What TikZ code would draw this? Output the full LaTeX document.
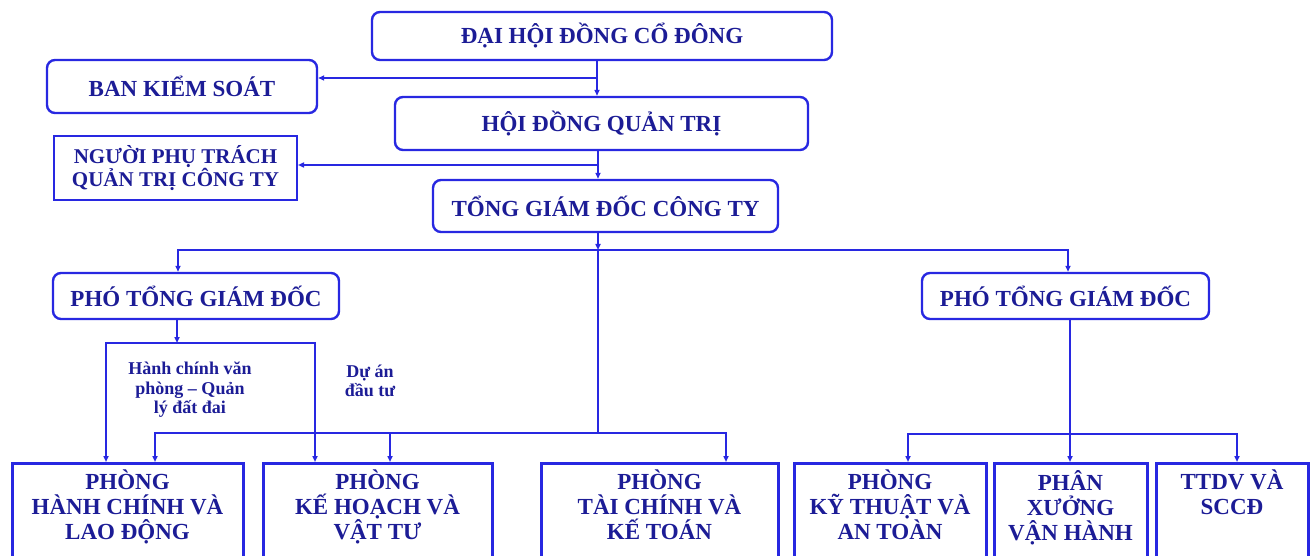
\documentclass[tikz,border=0pt]{standalone}
\usepackage{fontspec}
\setmainfont{Liberation Serif}
\usepackage{tikz}
\usetikzlibrary{arrows.meta, calc}
\definecolor{line-blue}{RGB}{40,40,225}
\definecolor{text-blue}{RGB}{28,28,150}
\tikzset{
    board/.style = {draw=line-blue, line width=2.4pt, rounded corners=8pt,
        text=text-blue, font=\fontsize{23}{25}\selectfont\bfseries, inner sep=0pt},
    staff/.style = {draw=line-blue, line width=2pt, text=text-blue, align=center,
        font=\fontsize{21}{22}\selectfont\bfseries, inner sep=0pt},
    dept/.style = {draw=line-blue, line width=3pt, inner sep=0pt, anchor=north,
        minimum height=130pt},
    dept-text/.style = {text=text-blue, font=\fontsize{23}{25}\selectfont\bfseries,
        align=center, anchor=north, inner sep=0pt, yshift=-8pt},
    branch/.style = {text=text-blue, font=\fontsize{18}{19.5}\selectfont\bfseries, align=center},
    link/.style = {draw=line-blue, line width=1.6pt},
    arr/.style = {link, -{Triangle[length=6pt,width=5pt]}}
}

\begin{document}
\begin{tikzpicture}[x=1pt,y=-1pt]
\path[use as bounding box, clip] (0,0) rectangle (1315,556);

\node[board, minimum width=460, minimum height=48] (dhdcd) at (602,36) {ĐẠI HỘI ĐỒNG CỔ ĐÔNG};
\node[board, minimum width=270, minimum height=53] (bks) at (182,86.5) {BAN KIỂM SOÁT};
\node[board, minimum width=413, minimum height=53] (hdqt) at (601.5,123.5) {HỘI ĐỒNG QUẢN TRỊ};
\node[staff, minimum width=243, minimum height=64] (npt) at (175.5,168) {NGƯỜI PHỤ TRÁCH\\QUẢN TRỊ CÔNG TY};
\node[board, minimum width=345, minimum height=52] (tgd) at (605.5,206) {TỔNG GIÁM ĐỐC CÔNG TY};
\node[board, minimum width=286, minimum height=46] (ptgd1) at (196,296) {PHÓ TỔNG GIÁM ĐỐC};
\node[board, minimum width=287, minimum height=46] (ptgd2) at (1065.5,296) {PHÓ TỔNG GIÁM ĐỐC};

% phong ban
\node[dept, minimum width=231] (p1) at (127.5,462) {};
\node[dept-text] at (p1.north) {PHÒNG\\HÀNH CHÍNH VÀ\\LAO ĐỘNG};
\node[dept, minimum width=229] (p2) at (377.5,462) {};
\node[dept-text] at (p2.north) {PHÒNG\\KẾ HOẠCH VÀ\\VẬT TƯ};
\node[dept, minimum width=237] (p3) at (659.5,462) {};
\node[dept-text] at (p3.north) {PHÒNG\\TÀI CHÍNH VÀ\\KẾ TOÁN};
\node[dept, minimum width=192] (p4) at (890,462) {};
\node[dept-text] at (p4.north) {PHÒNG\\KỸ THUẬT VÀ\\AN TOÀN};
\node[dept, minimum width=153] (p5) at (1070.5,462) {};
\node[dept-text] at (p5.north) {PHÂN\\XƯỞNG\\VẬN HÀNH};
\node[dept, minimum width=152] (p6) at (1232,462) {};
\node[dept-text] at (p6.north) {TTDV VÀ\\SCCĐ};

% top spine
\coordinate (j-bks) at (597,78);
\coordinate (j-npt) at (598,165);
\draw[arr] (dhdcd.south -| j-bks) -- (hdqt.north -| j-bks);
\draw[arr] (j-bks) -- (j-bks -| bks.east);
\draw[arr] (hdqt.south -| j-npt) -- (tgd.north -| j-npt);
\draw[arr] (j-npt) -- (j-npt -| npt.east);

\coordinate (j-top) at (598,250);
\coordinate (a-left) at (178,250);
\coordinate (a-right) at (1068,250);
\draw[arr] (tgd.south -| j-top) -- (j-top);
\draw[arr] (j-top) -| (ptgd1.north -| a-left);
\draw[arr] (j-top) -| (ptgd2.north -| a-right);

% tong giam doc -> phong
\coordinate (j-mid) at (598,433);
\coordinate (d1) at (155,433);
\coordinate (d2) at (390,433);
\coordinate (d3) at (726,433);
\draw[link] (j-top) -- (j-mid);
\draw[arr] (j-mid) -| (p1.north -| d1);
\draw[arr] (j-mid) -| (p3.north -| d3);
\draw[arr] (d2) -- (p2.north -| d2);

% pho tong giam doc 1
\coordinate (k-top) at (177,343);
\coordinate (k1) at (106,343);
\coordinate (k2) at (315,343);
\draw[arr] (ptgd1.south -| k-top) -- (k-top);
\draw[arr] (k-top) -| (p1.north -| k1);
\draw[arr] (k-top) -| (p2.north -| k2);
\node[branch] (lbl-hc) at (190,390) {Hành chính văn\\phòng – Quản\\lý đất đai};
\node[branch] (lbl-da) at (370,381) {Dự án\\đầu tư};

% pho tong giam doc 2
\coordinate (m-mid) at (1070,434);
\coordinate (m1) at (908,434);
\coordinate (m2) at (1237,434);
\draw[arr] (ptgd2.south -| m-mid) -- (p5.north -| m-mid);
\draw[arr] (m-mid) -| (p4.north -| m1);
\draw[arr] (m-mid) -| (p6.north -| m2);
\end{tikzpicture}
\end{document}
